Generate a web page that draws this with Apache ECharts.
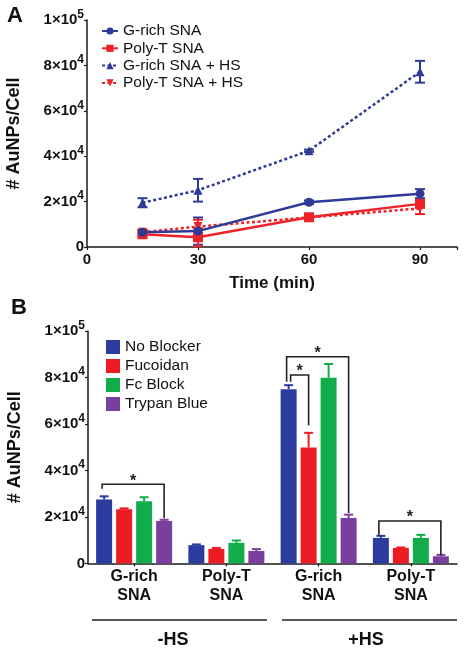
<!DOCTYPE html>
<html><head><meta charset="utf-8">
<script src="https://cdn.jsdelivr.net/npm/echarts@6/dist/echarts.min.js"></script>
<style>html,body{margin:0;padding:0;background:#fff}#c{width:468px;height:648px}</style>
</head><body><div id="c"></div>
<script>
// ---------- Panel A data ----------
const timePoints = [15, 30, 60, 90];
const gRich = [6500, 7000, 19700, 23500];
const gRichErr = [1000, 6000, 800, 2000];
const polyT = [5600, 4300, 13100, 19000];
const polyTErr = [1000, 4000, 1200, 1500];
const gRichHS = [19500, 25000, 42400, 77200];
const gRichHSErr = [2000, 5000, 500, 4800];
const polyTHS = [6500, 9000, 13000, 17000];
const polyTHSErr = [1000, 3000, 800, 2500];
const xTickValuesA = [0, 30, 60, 90];

// ---------- Panel B data ----------
const categoriesB = ['G-rich\nSNA', 'Poly-T\nSNA', 'G-rich\nSNA', 'Poly-T\nSNA'];
const hsGroups = ['-HS', '+HS'];
const noBlocker = [27500, 7900, 75000, 11000];
const noBlockerErr = [1400, 300, 1700, 900];
const fucoidan = [23300, 6300, 49900, 6700];
const fucoidanErr = [400, 400, 6300, 200];
const fcBlock = [26800, 8900, 79900, 11000];
const fcBlockErr = [1700, 1000, 5900, 1300];
const trypanBlue = [18300, 5400, 19600, 3100];
const trypanBlueErr = [500, 800, 1400, 600];
// significance brackets: [category, fromBar, toBar, topValue, leftEndValue, rightEndValue]
const brackets = [
  [0, 0, 3, 34100, 32100, 19500],
  [2, 0, 3, 88900, 78200, 21700],
  [2, 0, 1, 81100, 78200, 59500],
  [3, 0, 3, 18300, 12200, 3600]
];
const bracketLabel = '*';

// ---------- shared ----------
const yTickLabels = {0: '0', 20000: '2×10^4', 40000: '4×10^4', 60000: '6×10^4', 80000: '8×10^4', 100000: '1×10^5'};
const yAxisName = '# AuNPs/Cell';
const xAxisNameA = 'Time (min)';

const FONT = '"Liberation Sans", Arial, sans-serif';
const BLUE = '#2e3a96', RED = '#ee2229';
const BAR_COLORS = ['#2b3c9e', '#ed1c24', '#12ad4b', '#7a3f9e'];
const AXIS = '#1a1a1a';

function yFmt(v) {
  const s = yTickLabels[v];
  if (s === undefined) return '';
  if (s.indexOf('^') < 0) return '{m|' + s + '}';
  const p = s.split('^');
  return '{m|' + p[0] + '}{e|' + p[1] + '}';
}
const yRich = {
  m: {fontSize: 15, fontWeight: 'bold', fontFamily: FONT, color: '#111'},
  e: {fontSize: 12, fontWeight: 'bold', fontFamily: FONT, color: '#111', padding: [0, 0, 11, 0]}
};

function yAxisCfg(gridIndex) {
  return {
    type: 'value', gridIndex: gridIndex, min: 0, max: 100000, interval: 20000,
    splitLine: {show: false},
    axisLine: {show: true, lineStyle: {color: AXIS, width: 1.5}},
    axisTick: {show: true, length: 3, lineStyle: {color: AXIS, width: 1.2}},
    axisLabel: {formatter: yFmt, rich: yRich, margin: 3},
    name: yAxisName, nameLocation: 'middle', nameGap: 64,
    nameTextStyle: {fontSize: 18, fontWeight: 'bold', fontFamily: FONT, color: '#111'}
  };
}

// error bars panel A
function errSeriesA(name, vals, errs, color) {
  return {
    type: 'custom', name: name, xAxisIndex: 0, yAxisIndex: 0, z: 3,
    data: timePoints.map((t, i) => [t, vals[i], errs[i]]),
    renderItem: function (params, api) {
      const x = api.value(0), y = api.value(1), e = api.value(2);
      const lo = api.coord([x, y - e]), hi = api.coord([x, y + e]);
      const st = {stroke: color, lineWidth: 2};
      return {type: 'group', children: [
        {type: 'line', shape: {x1: lo[0], y1: lo[1], x2: hi[0], y2: hi[1]}, style: st},
        {type: 'line', shape: {x1: lo[0] - 5, y1: lo[1], x2: lo[0] + 5, y2: lo[1]}, style: st},
        {type: 'line', shape: {x1: hi[0] - 5, y1: hi[1], x2: hi[0] + 5, y2: hi[1]}, style: st}
      ]};
    }
  };
}

const BAR_W = 16, BAR_GAP_PX = 4;
function barOffset(k) { return (k - 1.5) * (BAR_W + BAR_GAP_PX); }

function errSeriesB(k, vals, errs) {
  const color = BAR_COLORS[k];
  return {
    type: 'custom', name: 'errB' + k, xAxisIndex: 1, yAxisIndex: 1, z: 1,
    data: vals.map((v, i) => [i, v, errs[i]]),
    renderItem: function (params, api) {
      const c = api.value(0), v = api.value(1), e = api.value(2);
      const base = api.coord([c, v]), top = api.coord([c, v + e]);
      const x = base[0] + barOffset(k);
      const st = {stroke: color, lineWidth: 2};
      return {type: 'group', children: [
        {type: 'line', shape: {x1: x, y1: base[1], x2: x, y2: top[1]}, style: st},
        {type: 'line', shape: {x1: x - 4.5, y1: top[1], x2: x + 4.5, y2: top[1]}, style: st}
      ]};
    }
  };
}

const lineStyleDot = [3, 2.5];
function lineSeries(name, vals, color, symbol, dotted, rotate) {
  return {
    type: 'line', name: name, xAxisIndex: 0, yAxisIndex: 0, z: 4,
    data: timePoints.map((t, i) => [t, vals[i]]),
    symbol: symbol, symbolSize: symbol === 'rect' ? 10 : 9, symbolRotate: rotate || 0,
    showSymbol: true,
    lineStyle: {color: color, width: 2.5, type: dotted ? lineStyleDot : 'solid'},
    itemStyle: {color: color},
    emphasis: {disabled: true}
  };
}

function barSeries(k, name, vals) {
  return {
    type: 'bar', name: name, xAxisIndex: 1, yAxisIndex: 1, z: 2,
    data: vals, barWidth: BAR_W, barGap: (BAR_GAP_PX / BAR_W * 100) + '%',
    itemStyle: {color: BAR_COLORS[k]}, emphasis: {disabled: true}
  };
}

const bracketSeries = {
  type: 'custom', name: 'brackets', xAxisIndex: 1, yAxisIndex: 1, z: 5,
  data: brackets,
  renderItem: function (params, api) {
    const c = api.value(0), b0 = api.value(1), b1 = api.value(2);
    const topP = api.coord([c, api.value(3)]);
    const lP = api.coord([c, api.value(4)]);
    const rP = api.coord([c, api.value(5)]);
    const xl = topP[0] + barOffset(b0) + (b1 - b0 === 1 ? 2 : -2);
    const xr = topP[0] + barOffset(b1);
    const st = {stroke: '#222', lineWidth: 1.6, fill: null};
    return {type: 'group', children: [
      {type: 'polyline', shape: {points: [[xl, lP[1]], [xl, topP[1]], [xr, topP[1]], [xr, rP[1]]]}, style: st},
      {type: 'text', x: (xl + xr) / 2, y: topP[1] - 3,
       style: {text: bracketLabel, fontSize: 16, fontWeight: 'bold', fontFamily: FONT, fill: '#222', align: 'center', verticalAlign: 'middle'}}
    ]};
  }
};

const chart = echarts.init(document.getElementById('c'), null, {renderer: 'canvas'});
const option = {
  backgroundColor: '#fff',
  animation: false,
  textStyle: {fontFamily: FONT},
  grid: [
    {left: 87, top: 20, width: 370, height: 227, outerBoundsMode: 'none', containLabel: false},
    {left: 88, top: 331, width: 369, height: 232.5, outerBoundsMode: 'none', containLabel: false}
  ],
  legend: [
    {data: ['G-rich SNA', 'Poly-T SNA', 'G-rich SNA + HS', 'Poly-T SNA + HS'],
     orient: 'vertical', left: 101, top: 23, padding: 0, itemWidth: 16, itemHeight: 9, itemGap: 1.3,
     textStyle: {fontSize: 15.5, fontFamily: FONT, color: '#111'}, selectedMode: false},
    {data: ['No Blocker', 'Fucoidan', 'Fc Block', 'Trypan Blue'],
     orient: 'vertical', left: 106, top: 339, padding: 0, itemWidth: 14, itemHeight: 14, itemGap: 3,
     icon: 'rect',
     textStyle: {fontSize: 15.5, fontFamily: FONT, color: '#111'}, selectedMode: false}
  ],
  xAxis: [
    {type: 'value', gridIndex: 0, min: 0, max: 100, interval: 30,
     splitLine: {show: false},
     axisLine: {lineStyle: {color: AXIS, width: 1.5}},
     axisTick: {show: true, length: 3, lineStyle: {color: AXIS, width: 1.2}},
     axisLabel: {fontSize: 15, fontWeight: 'bold', fontFamily: FONT, color: '#111', margin: 5,
       formatter: v => xTickValuesA.indexOf(v) >= 0 ? String(v) : ''},
     name: xAxisNameA, nameLocation: 'middle', nameGap: 28,
     nameTextStyle: {fontSize: 17, fontWeight: 'bold', fontFamily: FONT, color: '#111'}},
    {type: 'category', gridIndex: 1, data: categoriesB,
     axisLine: {lineStyle: {color: AXIS, width: 1.5}},
     axisTick: {show: true, alignWithLabel: true, length: 3, lineStyle: {color: AXIS, width: 1.2}},
     axisLabel: {fontSize: 16, fontWeight: 'bold', fontFamily: FONT, color: '#111', margin: 4, lineHeight: 19, interval: 0}}
  ],
  yAxis: [yAxisCfg(0), yAxisCfg(1)],
  series: [
    errSeriesA('eA1', gRich, gRichErr, BLUE),
    errSeriesA('eA2', polyT, polyTErr, RED),
    errSeriesA('eA3', gRichHS, gRichHSErr, BLUE),
    errSeriesA('eA4', polyTHS, polyTHSErr, RED),
    lineSeries('Poly-T SNA + HS', polyTHS, RED, 'triangle', true, 180),
    lineSeries('G-rich SNA + HS', gRichHS, BLUE, 'triangle', true),
    lineSeries('Poly-T SNA', polyT, RED, 'rect', false),
    lineSeries('G-rich SNA', gRich, BLUE, 'circle', false),
    barSeries(0, 'No Blocker', noBlocker),
    barSeries(1, 'Fucoidan', fucoidan),
    barSeries(2, 'Fc Block', fcBlock),
    barSeries(3, 'Trypan Blue', trypanBlue),
    errSeriesB(0, noBlocker, noBlockerErr),
    errSeriesB(1, fucoidan, fucoidanErr),
    errSeriesB(2, fcBlock, fcBlockErr),
    errSeriesB(3, trypanBlue, trypanBlueErr),
    bracketSeries
  ],
  graphic: [
    {type: 'text', left: 7, top: 5, style: {text: 'A', fontSize: 22, fontWeight: 'bold', fontFamily: FONT, fill: '#111'}},
    {type: 'text', left: 11, top: 297, style: {text: 'B', fontSize: 22, fontWeight: 'bold', fontFamily: FONT, fill: '#111'}},
    {type: 'line', shape: {x1: 92, y1: 620, x2: 267, y2: 620}, style: {stroke: '#222', lineWidth: 1.5}},
    {type: 'line', shape: {x1: 282, y1: 620, x2: 457, y2: 620}, style: {stroke: '#222', lineWidth: 1.5}},
    {type: 'text', x: 173, y: 640, style: {text: hsGroups[0], fontSize: 18, fontWeight: 'bold', fontFamily: FONT, fill: '#111', align: 'center', verticalAlign: 'middle'}},
    {type: 'text', x: 366, y: 640, style: {text: hsGroups[1], fontSize: 18, fontWeight: 'bold', fontFamily: FONT, fill: '#111', align: 'center', verticalAlign: 'middle'}}
  ]
};
chart.setOption(option);
</script>
</body></html>
